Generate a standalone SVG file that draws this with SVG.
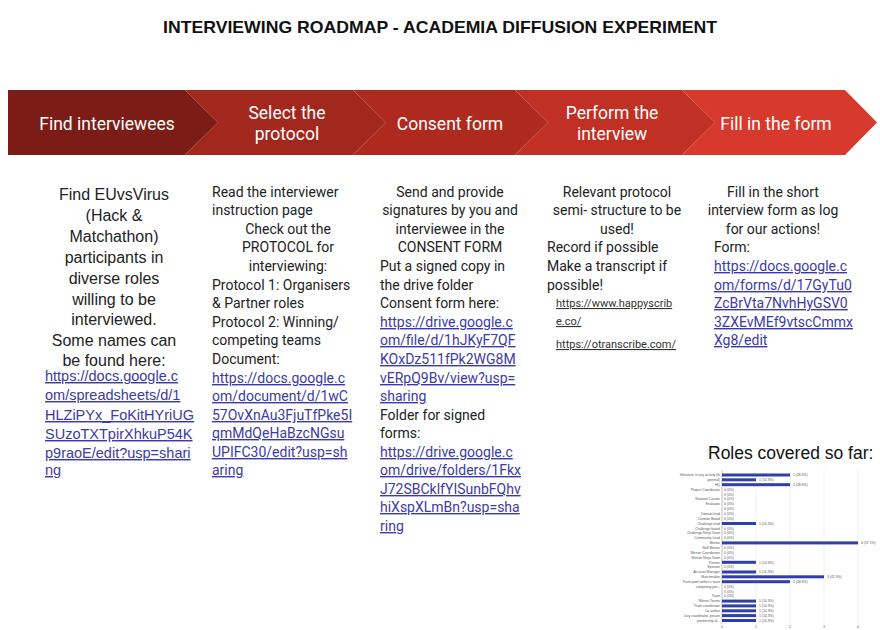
<svg xmlns="http://www.w3.org/2000/svg" width="880" height="630" viewBox="0 0 880 630">
<style>
.title{font-family:"Liberation Sans",Arial,sans-serif;font-weight:bold;font-size:16.5px;fill:#111}
.ban{font-family:Roboto,"Liberation Sans",sans-serif;font-size:17.5px;fill:#fff;text-anchor:middle}
.c1{font-family:"Liberation Sans",Arial,sans-serif;font-size:16px;fill:#222;text-anchor:middle}
.t{font-family:Roboto,"Liberation Sans",sans-serif;font-size:14px;fill:#222}
.m{text-anchor:middle}
.lk{font-family:Roboto,"Liberation Sans",sans-serif;font-size:14px;fill:#3b3aa8;text-decoration:underline}
.lk1{font-family:"Liberation Sans",Arial,sans-serif;font-size:14.5px;fill:#3b3aa8;text-decoration:underline}
.lk2{font-family:Roboto,"Liberation Sans",sans-serif;font-size:11px;fill:#333;text-decoration:underline}
.rt{font-family:"Liberation Sans",Arial,sans-serif;font-size:17.5px;fill:#111}
.cl{font-family:"Liberation Sans",Arial,sans-serif;font-size:3.4px;fill:#555;text-anchor:end}
.cv{font-family:"Liberation Sans",Arial,sans-serif;font-size:3.4px;fill:#555}
.bar{fill:#2f3fae}
.grid{stroke:#e4e4e4;stroke-width:0.6}
</style>
<rect width="880" height="630" fill="#ffffff"/>
<text class="title" x="163" y="33" textLength="554" lengthAdjust="spacingAndGlyphs">INTERVIEWING ROADMAP - ACADEMIA DIFFUSION EXPERIMENT</text>

<g id="banner">
<g id="step1"><polygon points="8,90 185,90 218,122.5 185,155 8,155" fill="#7b1d16"/><text class="ban" x="107" y="130">Find interviewees</text></g>
<g id="step2"><polygon points="185,90 353,90 386,122.5 353,155 185,155 218,122.5" fill="#a2271d"/><text class="ban" x="287" y="119">Select the</text><text class="ban" x="287" y="140">protocol</text></g>
<g id="step3"><polygon points="353,90 515,90 548,122.5 515,155 353,155 386,122.5" fill="#ae2a1f"/><text class="ban" x="450" y="130">Consent form</text></g>
<g id="step4"><polygon points="515,90 682,90 715,122.5 682,155 515,155 548,122.5" fill="#c03024"/><text class="ban" x="612" y="119">Perform the</text><text class="ban" x="612" y="140">interview</text></g>
<g id="step5"><polygon points="682,90 845,90 877,122.5 845,155 682,155 715,122.5" fill="#d7392c"/><text class="ban" x="776" y="130">Fill in the form</text></g>
</g>

<g id="col1">
<text class="c1" x="114" y="200">Find EUvsVirus</text>
<text class="c1" x="114" y="221">(Hack &amp;</text>
<text class="c1" x="114" y="242">Matchathon)</text>
<text class="c1" x="114" y="263">participants in</text>
<text class="c1" x="114" y="284">diverse roles</text>
<text class="c1" x="114" y="305">willing to be</text>
<text class="c1" x="114" y="325">interviewed.</text>
<text class="c1" x="114" y="346">Some names can</text>
<text class="c1" x="114" y="366">be found here:</text>
<text class="lk1" x="45" y="381">https://docs.google.c</text>
<text class="lk1" x="45" y="400">om/spreadsheets/d/1</text>
<text class="lk1" x="45" y="420">HLZiPYx_FoKitHYriUG</text>
<text class="lk1" x="45" y="439">SUzoTXTpirXhkuP54K</text>
<text class="lk1" x="45" y="458">p9raoE/edit?usp=shari</text>
<text class="lk1" x="45" y="475">ng</text>
</g>

<g id="col2">
<text class="t" x="212" y="197">Read the interviewer</text>
<text class="t" x="212" y="215">instruction page</text>
<text class="t m" x="288" y="234">Check out the</text>
<text class="t m" x="288" y="252">PROTOCOL for</text>
<text class="t m" x="288" y="271">interviewing:</text>
<text class="t" x="212" y="290">Protocol 1: Organisers</text>
<text class="t" x="212" y="308">&amp; Partner roles</text>
<text class="t" x="212" y="327">Protocol 2: Winning/</text>
<text class="t" x="212" y="345">competing teams</text>
<text class="t" x="212" y="364">Document:</text>
<text class="lk" x="212" y="383">https://docs.google.c</text>
<text class="lk" x="212" y="401">om/document/d/1wC</text>
<text class="lk" x="212" y="420">57OvXnAu3FjuTfPke5I</text>
<text class="lk" x="212" y="438">qmMdQeHaBzcNGsu</text>
<text class="lk" x="212" y="457">UPIFC30/edit?usp=sh</text>
<text class="lk" x="212" y="475">aring</text>
</g>

<g id="col3">
<text class="t m" x="450" y="197">Send and provide</text>
<text class="t m" x="450" y="215">signatures by you and</text>
<text class="t m" x="450" y="234">interviewee in the</text>
<text class="t m" x="450" y="252">CONSENT FORM</text>
<text class="t" x="380" y="271">Put a signed copy in</text>
<text class="t" x="380" y="290">the drive folder</text>
<text class="t" x="380" y="308">Consent form here:</text>
<text class="lk" x="380" y="327">https://drive.google.c</text>
<text class="lk" x="380" y="345">om/file/d/1hJKyF7QF</text>
<text class="lk" x="380" y="364">KOxDz511fPk2WG8M</text>
<text class="lk" x="380" y="383">vERpQ9Bv/view?usp=</text>
<text class="lk" x="380" y="401">sharing</text>
<text class="t" x="380" y="420">Folder for signed</text>
<text class="t" x="380" y="438">forms:</text>
<text class="lk" x="380" y="457">https://drive.google.c</text>
<text class="lk" x="380" y="475">om/drive/folders/1Fkx</text>
<text class="lk" x="380" y="494">J72SBCklfYISunbFQhv</text>
<text class="lk" x="380" y="512">hiXspXLmBn?usp=sha</text>
<text class="lk" x="380" y="531">ring</text>
</g>

<g id="col4">
<text class="t m" x="617" y="197">Relevant protocol</text>
<text class="t m" x="617" y="215">semi- structure to be</text>
<text class="t m" x="617" y="234">used!</text>
<text class="t" x="547" y="252">Record if possible</text>
<text class="t" x="547" y="271">Make a transcript if</text>
<text class="t" x="547" y="290">possible!</text>
<text class="lk2" x="556" y="307">https://www.happyscrib</text>
<text class="lk2" x="556" y="325">e.co/</text>
<text class="lk2" x="556" y="348">https://otranscribe.com/</text>
</g>

<g id="col5">
<text class="t m" x="773" y="197">Fill in the short</text>
<text class="t m" x="773" y="215">interview form as log</text>
<text class="t m" x="773" y="234">for our actions!</text>
<text class="t" x="714" y="252">Form:</text>
<text class="lk" x="714" y="271">https://docs.google.c</text>
<text class="lk" x="714" y="290">om/forms/d/17GyTu0</text>
<text class="lk" x="714" y="308">ZcBrVta7NvhHyGSV0</text>
<text class="lk" x="714" y="327">3ZXEvMEf9vtscCmmx</text>
<text class="lk" x="714" y="345">Xg8/edit</text>
</g>

<g id="chart">
<text class="rt" x="708" y="459">Roles covered so far:</text>
<line class="grid" x1="756" y1="470" x2="756" y2="624"/>
<line class="grid" x1="790" y1="470" x2="790" y2="624"/>
<line class="grid" x1="824" y1="470" x2="824" y2="624"/>
<line class="grid" x1="858" y1="470" x2="858" y2="624"/>
<line x1="722" y1="470" x2="722" y2="624" stroke="#999" stroke-width="0.6"/>
<g id="bars">
<rect class="bar" x="722" y="473.5" width="68" height="3"/>
<rect class="bar" x="722" y="478.3" width="34" height="3"/>
<rect class="bar" x="722" y="483.2" width="68" height="3"/>
<rect class="bar" x="722" y="522" width="34" height="3"/>
<rect class="bar" x="722" y="541.4" width="136" height="3"/>
<rect class="bar" x="722" y="560.8" width="34" height="3"/>
<rect class="bar" x="722" y="570.5" width="34" height="3"/>
<rect class="bar" x="722" y="575.3" width="102" height="3"/>
<rect class="bar" x="722" y="580.2" width="68" height="3"/>
<rect class="bar" x="722" y="599.6" width="34" height="3"/>
<rect class="bar" x="722" y="604.4" width="34" height="3"/>
<rect class="bar" x="722" y="609.3" width="34" height="3"/>
<rect class="bar" x="722" y="614.1" width="34" height="3"/>
<rect class="bar" x="722" y="619" width="34" height="3"/>
</g>
<g id="rowlabels">
<text class="cl" x="720" y="476">Volunteer in any activity (in</text>
<text class="cl" x="720" y="481">general)</text>
<text class="cl" x="720" y="486">HQ</text>
<text class="cl" x="720" y="490.7">Project Coordinator</text>
<text class="cl" x="720" y="500.4">National Curator</text>
<text class="cl" x="720" y="505.3">Evaluator</text>
<text class="cl" x="720" y="515">Domain lead</text>
<text class="cl" x="720" y="519.8">Domain Board</text>
<text class="cl" x="720" y="524.7">Challenge lead</text>
<text class="cl" x="720" y="529.5">Challenge board</text>
<text class="cl" x="720" y="534.4">Challenge Ninja Team</text>
<text class="cl" x="720" y="539.2">Community Lead</text>
<text class="cl" x="720" y="544.1">Mentor</text>
<text class="cl" x="720" y="548.9">Skill Mentor</text>
<text class="cl" x="720" y="553.8">Mentor Coordinator</text>
<text class="cl" x="720" y="558.6">Mentor Ninja Team</text>
<text class="cl" x="720" y="563.5">Partner</text>
<text class="cl" x="720" y="568.3">Sponsor</text>
<text class="cl" x="720" y="573.2">Account Manager</text>
<text class="cl" x="720" y="578">Matchmaker</text>
<text class="cl" x="720" y="582.9">Participant within a team</text>
<text class="cl" x="720" y="587.7">competing pro...</text>
<text class="cl" x="720" y="597.4">Team</text>
<text class="cl" x="720" y="602.3">Winner Teams</text>
<text class="cl" x="720" y="607.1">Team coordinator</text>
<text class="cl" x="720" y="612">Co-author</text>
<text class="cl" x="720" y="616.8">Jury coordinator, private</text>
<text class="cl" x="720" y="621.7">partnership &amp;...</text>
</g>
<g id="values">
<text class="cv" x="793" y="476">2 (28.6%)</text>
<text class="cv" x="759" y="481">1 (14.3%)</text>
<text class="cv" x="793" y="486">2 (28.6%)</text>
<text class="cv" x="724" y="490.7">0 (0%)</text>
<text class="cv" x="724" y="495.6">0 (0%)</text>
<text class="cv" x="724" y="500.4">0 (0%)</text>
<text class="cv" x="724" y="505.3">0 (0%)</text>
<text class="cv" x="724" y="510.1">0 (0%)</text>
<text class="cv" x="724" y="515">0 (0%)</text>
<text class="cv" x="724" y="519.8">0 (0%)</text>
<text class="cv" x="759" y="524.7">1 (14.3%)</text>
<text class="cv" x="724" y="529.5">0 (0%)</text>
<text class="cv" x="724" y="534.4">0 (0%)</text>
<text class="cv" x="724" y="539.2">0 (0%)</text>
<text class="cv" x="861" y="544.1">4 (57.1%)</text>
<text class="cv" x="724" y="548.9">0 (0%)</text>
<text class="cv" x="724" y="553.8">0 (0%)</text>
<text class="cv" x="724" y="558.6">0 (0%)</text>
<text class="cv" x="759" y="563.5">1 (14.3%)</text>
<text class="cv" x="724" y="568.3">0 (0%)</text>
<text class="cv" x="759" y="573.2">1 (14.3%)</text>
<text class="cv" x="827" y="578">3 (42.9%)</text>
<text class="cv" x="793" y="582.9">2 (28.6%)</text>
<text class="cv" x="724" y="587.7">0 (0%)</text>
<text class="cv" x="724" y="592.6">0 (0%)</text>
<text class="cv" x="724" y="597.4">0 (0%)</text>
<text class="cv" x="759" y="602.3">1 (14.3%)</text>
<text class="cv" x="759" y="607.1">1 (14.3%)</text>
<text class="cv" x="759" y="612">1 (14.3%)</text>
<text class="cv" x="759" y="616.8">1 (14.3%)</text>
<text class="cv" x="759" y="621.7">1 (14.3%)</text>
</g>
<g id="axis">
<text class="cv" x="721" y="628">0</text>
<text class="cv" x="755" y="628">1</text>
<text class="cv" x="789" y="628">2</text>
<text class="cv" x="823" y="628">3</text>
<text class="cv" x="857" y="628">4</text>
</g>
</g>
</svg>
